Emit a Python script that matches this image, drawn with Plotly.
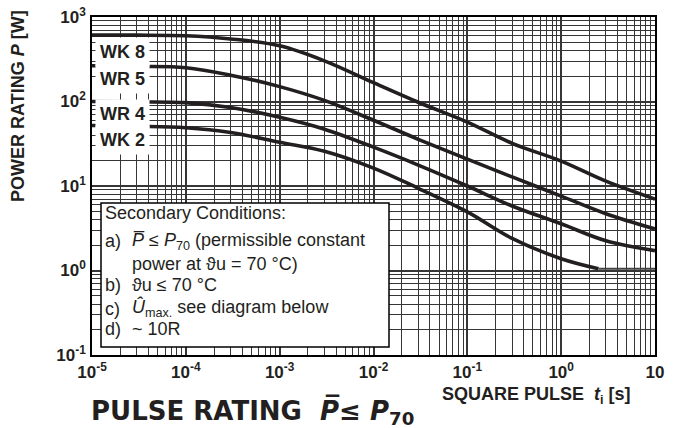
import plotly.graph_objects as go

# ---------------- data ----------------
T = [1e-5, 3e-5, 1e-4, 3e-4, 1e-3, 3e-3, 1e-2, 3e-2, 0.1, 0.3, 1, 3, 10]
P_WK8 = [610, 610, 600, 550, 456, 303, 167, 98, 57, 32, 19.7, 11.4, 7.0]
P_WR5 = [265, 260, 251, 205, 150, 103, 60, 35.7, 20.8, 12.8, 7.6, 4.7, 3.1]
P_WR4 = [100, 99, 97, 85, 65, 47, 28.8, 17.7, 10.0, 5.8, 3.57, 2.25, 1.72]
T_WK2 = [1e-5, 3e-5, 1e-4, 3e-4, 1e-3, 3e-3, 1e-2, 3e-2, 0.1, 0.3, 1, 2.5]
P_WK2 = [52, 51, 49, 43, 33, 25.8, 16.3, 9.4, 4.95, 2.4, 1.38, 1.05]
T_WK2_FLAT = [2.5, 10]
P_WK2_FLAT = [1.05, 1.05]

X_TICKVALS = [1e-5, 1e-4, 1e-3, 1e-2, 1e-1, 1, 10]
X_TICKTEXT = ["10<sup>-5</sup>", "10<sup>-4</sup>", "10<sup>-3</sup>", "10<sup>-2</sup>",
              "10<sup>-1</sup>", "10<sup>0</sup>", "10"]
Y_TICKVALS = [0.1, 1, 10, 100, 1000]
Y_TICKTEXT = ["10<sup>-1</sup>", "10<sup>0</sup>", "10<sup>1</sup>", "10<sup>2</sup>", "10<sup>3</sup>"]

SERIES_LABELS = ["WK 8", "WR 5", "WR 4", "WK 2"]

# ---------------- layout helpers ----------------
W, H = 678, 428
# plot area in screenshot pixels
L, R, TOP, BOT = 92, 655, 17, 355
PW, PH = R - L, BOT - TOP


def px(x):
    return (x - L) / PW


def py(y):
    return (BOT - y) / PH


FONT = "Liberation Sans, Arial, Helvetica, sans-serif"
TFONT = "DejaVu Sans, Liberation Sans, Arial, sans-serif"
INK = "#231f20"
GRID = "#363636"

fig = go.Figure()
for t, p in [(T, P_WK8), (T, P_WR5), (T, P_WR4), (T_WK2, P_WK2)]:
    fig.add_trace(go.Scatter(x=t, y=p, mode="lines",
                             line=dict(color=INK, width=3.6, shape="spline", smoothing=1.0),
                             hoverinfo="skip", showlegend=False))
fig.add_trace(go.Scatter(x=T_WK2_FLAT, y=P_WK2_FLAT, mode="lines",
                         line=dict(color="#444444", width=2), hoverinfo="skip", showlegend=False))

x_minor = [m * 10 ** e for e in range(-5, 1) for m in range(2, 10)]
y_minor = [m * 10 ** e for e in range(-1, 3) for m in range(2, 10)]

fig.update_xaxes(type="log", range=[-5, 1], tickmode="array", tickvals=X_TICKVALS, ticktext=X_TICKTEXT,
                 showgrid=True, gridcolor=GRID, gridwidth=2,
                 minor=dict(tickmode="array", tickvals=x_minor, showgrid=True, gridcolor=GRID, gridwidth=1, ticks=""),
                 showline=True, linecolor="black", linewidth=1.5, mirror=True, ticks="",
                 tickfont=dict(family=FONT, size=17, color=INK, weight="bold"), ticklabelstandoff=1,
                 ticklabeloverflow="allow", zeroline=False, automargin=False)
fig.update_yaxes(type="log", range=[-1, 3], tickmode="array", tickvals=Y_TICKVALS, ticktext=Y_TICKTEXT,
                 showgrid=True, gridcolor=GRID, gridwidth=2,
                 minor=dict(tickmode="array", tickvals=y_minor, showgrid=True, gridcolor=GRID, gridwidth=1, ticks=""),
                 showline=True, linecolor="black", linewidth=1.5, mirror=True, ticks="",
                 tickfont=dict(family=FONT, size=17, color=INK, weight="bold"), ticklabelstandoff=1,
                 ticklabeloverflow="allow", zeroline=False, automargin=False)

shapes = [dict(type="rect", xref="paper", yref="paper", x0=px(101), x1=px(389), y0=py(347), y1=py(203),
               fillcolor="white", line=dict(color="black", width=1.5), layer="above")]

ann = []


def text(x, y, s, size=18, bold=False, xanchor="left", angle=0, bg=None, pad=1, family=FONT):
    d = dict(x=px(x), y=py(y), xref="paper", yref="paper", text=s, showarrow=False,
             xanchor=xanchor, yanchor="middle", textangle=angle,
             font=dict(family=family, size=size, color=INK, weight="bold" if bold else "normal"),
             borderpad=pad)
    if bg:
        d["bgcolor"] = bg
    ann.append(d)


# curve labels
for lab, yy in zip(SERIES_LABELS, [52, 78.5, 114.5, 140]):
    text(95, yy, lab, size=18, bold=True, bg="white", pad=4)

# secondary conditions box
text(103, 213, "Secondary Conditions:")
text(103, 241, "a)")
text(130, 241, "<i>P\u0305</i> \u2264 <i>P</i><sub>70</sub> (permissible constant")
text(130, 264, "power at \u03d1u = 70 \u00b0C)")
text(103, 285, "b)")
text(130, 285, "\u03d1u \u2264 70 \u00b0C")
text(103, 309, "c)")
text(130, 308, "<i>\u00db</i><sub>max.</sub> see diagram below")
text(103, 329, "d)")
text(130, 329, "~ 10R")

# axis titles and chart title
text(18, 106, "POWER RATING <i>P</i> [W]", size=18, bold=True, xanchor="center", angle=-90)
text(536, 395, "SQUARE PULSE  <i>t</i><sub>i</sub> [s]", size=18, bold=True, xanchor="center")
text(89, 411, "PULSE RATING  <i>P\u0305</i>\u2264 <i>P</i><sub>70</sub>", size=26, bold=True, family=TFONT)

fig.update_layout(width=W, height=H,
                  margin=dict(l=L, r=W - R, t=TOP, b=H - BOT, autoexpand=False),
                  paper_bgcolor="white", plot_bgcolor="white",
                  shapes=shapes, annotations=ann, showlegend=False)

fig.write_html("out.html", config={"displayModeBar": False},
               post_script="document.body.style.margin='0';document.body.style.overflow='hidden';")
